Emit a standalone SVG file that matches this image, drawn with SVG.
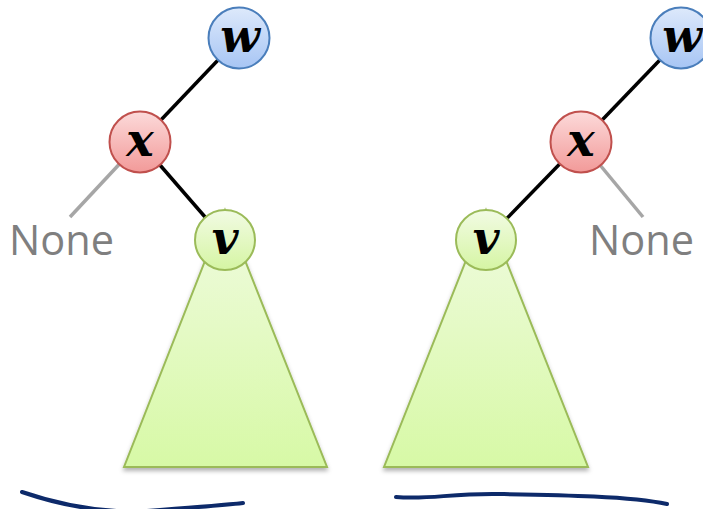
<svg xmlns="http://www.w3.org/2000/svg" width="703" height="509" viewBox="0 0 703 509">
<style>
.edge{stroke:#000;stroke-width:3.5;fill:none}
.nil{stroke:#a6a6a6;stroke-width:3.5;fill:none}
.lbl{font-family:"DejaVu Serif","Liberation Serif",serif;font-weight:bold;font-style:italic;font-size:46px;text-anchor:middle;fill:#000}
.none{font-family:"Open Sans","Liberation Sans",sans-serif;font-size:41.5px;fill:#7f7f7f}
.tri{fill:url(#gt);stroke:#9bbb59;stroke-width:2;filter:url(#sh)}
.ink{fill:none;stroke:#0d2a6a;stroke-width:4;stroke-linecap:round}
</style>
<defs>
<linearGradient id="gb" x1="0" y1="0" x2="0" y2="1"><stop offset="0" stop-color="#dde9fb"/><stop offset="1" stop-color="#a7c5f4"/></linearGradient>
<linearGradient id="gr" x1="0" y1="0" x2="0" y2="1"><stop offset="0" stop-color="#fcdada"/><stop offset="1" stop-color="#f29a99"/></linearGradient>
<linearGradient id="gg" x1="0" y1="0" x2="0" y2="1"><stop offset="0" stop-color="#f2fbe4"/><stop offset="1" stop-color="#d5f5a3"/></linearGradient>
<linearGradient id="gt" x1="0" y1="0" x2="0" y2="1"><stop offset="0" stop-color="#f0fbe0"/><stop offset="1" stop-color="#d7f9a6"/></linearGradient>
<filter id="sh" x="-10%" y="-10%" width="120%" height="125%"><feDropShadow dx="0" dy="3" stdDeviation="2" flood-color="#000" flood-opacity="0.3"/></filter>
</defs>
<g id="connectors">
<line class="edge" x1="239" y1="38" x2="140" y2="142"/>
<line class="edge" x1="140" y1="142" x2="225" y2="240"/>
<line class="nil" x1="140" y1="142" x2="70" y2="217"/>
<line class="edge" x1="681" y1="38" x2="581" y2="142"/>
<line class="edge" x1="581" y1="142" x2="486" y2="240"/>
<line class="nil" x1="581" y1="142" x2="643" y2="217"/>
</g>
<g id="subtree-left"><polygon class="tri" points="225,210 327,467 124,467"/></g>
<g id="subtree-right"><polygon class="tri" points="486,210 588,467 384,467"/></g>
<g id="w-left"><circle cx="239" cy="38" r="30.5" fill="url(#gb)" stroke="#4a7ebb" stroke-width="2"/><text class="lbl" x="240" y="52">w</text></g>
<g id="x-left"><circle cx="140" cy="142" r="30.5" fill="url(#gr)" stroke="#c0504d" stroke-width="2"/><text class="lbl" x="140" y="156">x</text></g>
<g id="v-left"><circle cx="225" cy="240" r="30" fill="url(#gg)" stroke="#9bbb59" stroke-width="2"/><text class="lbl" x="225" y="254">v</text></g>
<g id="none-left"><text class="none" x="9" y="255">None</text></g>
<g id="w-right"><circle cx="681" cy="38" r="30.5" fill="url(#gb)" stroke="#4a7ebb" stroke-width="2"/><text class="lbl" x="682" y="52">w</text></g>
<g id="x-right"><circle cx="581" cy="142" r="30.5" fill="url(#gr)" stroke="#c0504d" stroke-width="2"/><text class="lbl" x="581" y="156">x</text></g>
<g id="v-right"><circle cx="486" cy="240" r="30" fill="url(#gg)" stroke="#9bbb59" stroke-width="2"/><text class="lbl" x="486" y="254">v</text></g>
<g id="none-right"><text class="none" x="589" y="255">None</text></g>
<g id="marks">
<path class="ink" d="M22,492 C60,505 110,515 160,510 C200,507 225,505 243,503"/>
<path class="ink" d="M396,497 C430,500 450,493 500,494 C560,495 630,496 667,504"/>
</g>
</svg>
